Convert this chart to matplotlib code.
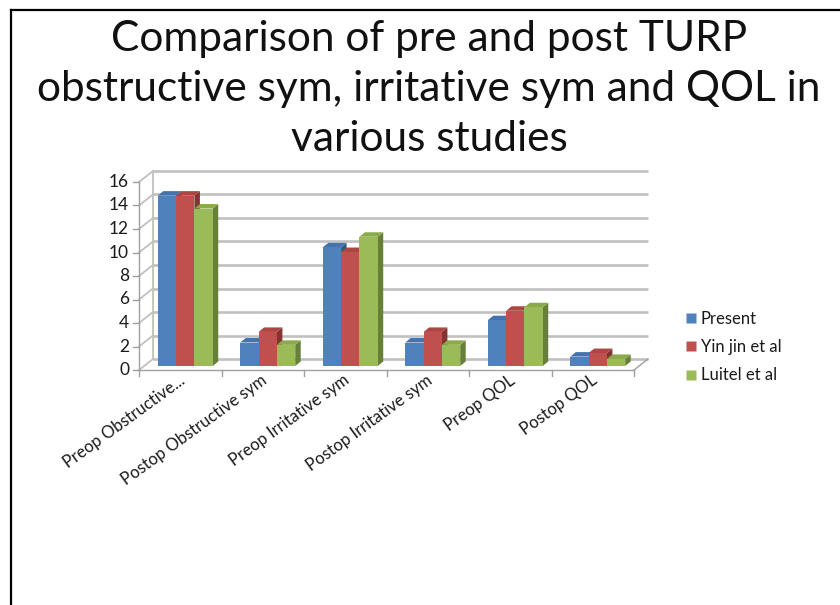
import matplotlib
matplotlib.use("Agg")
import matplotlib.pyplot as plt
from matplotlib.patches import Polygon
from matplotlib.lines import Line2D
import numpy as np

plt.rcParams['font.family'] = ['Lato', 'DejaVu Sans']

categories = ["Preop Obstructive...", "Postop Obstructive sym", "Preop Irritative sym",
              "Postop Irritative sym", "Preop QOL", "Postop QOL"]
series_names = ["Present", "Yin jin et al", "Luitel et al"]
present = [14.5, 2.0, 10.1, 2.0, 3.9, 0.8]
yin_jin = [14.5, 2.9, 9.7, 2.9, 4.7, 1.1]
luitel = [13.4, 1.8, 11.0, 1.8, 5.0, 0.6]
y_ticks = [0, 2, 4, 6, 8, 10, 12, 14, 16]

front_cols = ["#4F81BD", "#C0504D", "#9BBB59"]
top_cols = ["#4573AD", "#AD4542", "#8BAA4C"]
side_cols = ["#34567F", "#833432", "#66803A"]

W, H, DPI = 840, 605, 100
fig = plt.figure(figsize=(W / DPI, H / DPI), dpi=DPI)

# axes in pixel units: plane of bar fronts
px_l, px_r = 144, 639
px_y0, px_y16 = 366, 178
ax = fig.add_axes([px_l / W, 1 - px_y0 / H, (px_r - px_l) / W, (px_y0 - px_y16) / H])
ax.set_xlim(-0.5, len(categories) - 0.5)
ax.set_ylim(0, 16)
ax.axis('off')

ux = (px_r - px_l) / len(categories)   # px per category unit
uy = (px_y0 - px_y16) / 16.0           # px per value unit


def off(dx_px, dy_px):
    return dx_px / ux, dy_px / uy


fdx, fdy = off(-5, -4)   # front edge of floor / left wall
bdx, bdy = off(9, 7)     # back wall
ddx, ddy = off(5.5, 4.5)  # bar depth

x_lo, x_hi = -0.5, len(categories) - 0.5
grid_c = "#C0C0C0"
axis_c = "#A0A0A0"
txt_c = "#1A1A1A"

# back wall gridlines and left wall diagonals
for v in y_ticks:
    ax.plot([x_lo + bdx, x_hi + bdx], [v + bdy, v + bdy], color=grid_c, lw=1.9,
            solid_capstyle='butt', clip_on=False, zorder=1)
    ax.plot([x_lo + fdx, x_lo + bdx], [v + fdy, v + bdy], color=grid_c, lw=1.3,
            clip_on=False, zorder=1)
    # tick mark on the front axis
    ax.plot([x_lo + fdx - 6 / ux, x_lo + fdx], [v + fdy, v + fdy], color=axis_c, lw=1.0,
            clip_on=False, zorder=1)
    ax.text(x_lo + fdx - 10 / ux, v + fdy, str(v), ha='right', va='center',
            fontsize=12.5, color=txt_c)

# left wall verticals
ax.plot([x_lo + fdx, x_lo + fdx], [fdy, 16 + fdy], color=axis_c, lw=1.0, clip_on=False, zorder=1)
ax.plot([x_lo + bdx, x_lo + bdx], [bdy, 16 + bdy], color=grid_c, lw=1.3, clip_on=False, zorder=1)

# floor
ax.plot([x_lo + fdx, x_hi + fdx], [fdy, fdy], color=axis_c, lw=1.0, clip_on=False, zorder=1)
ax.plot([x_hi + fdx, x_hi + bdx], [fdy, bdy], color=axis_c, lw=1.0, clip_on=False, zorder=1)
for k in range(len(categories) + 1):
    xk = x_lo + k + fdx
    ax.plot([xk, xk], [fdy, fdy - 6 / uy], color=axis_c, lw=1.0, clip_on=False, zorder=1)

# bars
bw = 0.222
x = np.arange(len(categories))
all_series = [present, yin_jin, luitel]
z = 3
for i, (vals, name) in enumerate(zip(all_series, series_names)):
    pos = x + (i - 1) * bw
    bars = ax.bar(pos, vals, width=bw, color=front_cols[i], edgecolor='none',
                  label=name, zorder=z + 2 * i + 1, clip_on=False)
    for b in bars:
        x0 = b.get_x()
        x1 = x0 + b.get_width()
        h = b.get_height()
        side = Polygon([(x1, 0), (x1 + ddx, ddy), (x1 + ddx, h + ddy), (x1, h)],
                       closed=True, facecolor=side_cols[i], edgecolor='none',
                       zorder=z + 2 * i, clip_on=False)
        top = Polygon([(x0, h), (x1, h), (x1 + ddx, h + ddy), (x0 + ddx, h + ddy)],
                      closed=True, facecolor=top_cols[i], edgecolor='none',
                      zorder=z + 2 * i, clip_on=False)
        ax.add_patch(side)
        ax.add_patch(top)

# category labels
for k, lab in enumerate(categories):
    ax.text(k + fdx - 2 / ux, fdy - 2 / uy, lab, rotation=36, rotation_mode='anchor',
            ha='right', va='top', fontsize=12, color=txt_c)

# legend
handles = [Line2D([0], [0], marker='s', linestyle='none', markersize=7.5,
                  markerfacecolor=c, markeredgecolor='none') for c in front_cols]
fig.legend(handles, series_names, loc='center left', bbox_to_anchor=(676 / W, 1 - 347 / H),
           frameon=False, fontsize=12, handletextpad=0.1, labelspacing=0.75,
           handlelength=1.0, borderaxespad=0, labelcolor=txt_c)

# title
fig.text(429 / W, 1 - 89 / H,
         "Comparison of pre and post TURP\nobstructive sym, irritative sym and QOL in\nvarious studies",
         ha='center', va='center', fontsize=30.5, linespacing=1.38, color='#111111')

# frame lines
fig.add_artist(Line2D([11 / W, 1.0], [1 - 10 / H, 1 - 10 / H], color='black', lw=1.6,
                      transform=fig.transFigure))
fig.add_artist(Line2D([11 / W, 11 / W], [0, 1 - 10 / H], color='black', lw=1.6,
                      transform=fig.transFigure))

fig.savefig("out.png", dpi=DPI)
